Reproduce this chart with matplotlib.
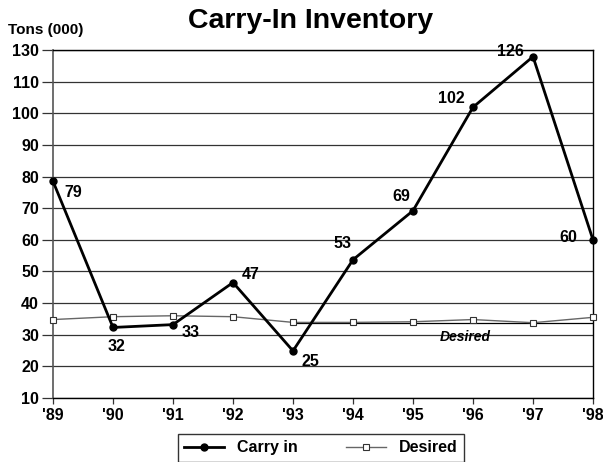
import matplotlib
matplotlib.use("Agg")
import matplotlib.pyplot as plt

plt.rcParams['font.family'] = ['Liberation Sans', 'DejaVu Sans']

years = ["'89", "'90", "'91", "'92", "'93", "'94", "'95", "'96", "'97", "'98"]
carry_in_labels = [79, 32, 33, 47, 25, 53, 69, 102, 126, 60]
# positions as drawn in the reference (its top gridline reads "130" but sits at 120)
carry_in = [78.5, 32.3, 33.2, 46.5, 24.9, 53.7, 69.2, 101.9, 117.9, 60]
desired = [34.8, 35.7, 36.0, 35.7, 33.9, 33.9, 34.1, 34.8, 33.8, 35.5]
ytick_vals = [10, 20, 30, 40, 50, 60, 70, 80, 90, 100, 110, 120]
ytick_labels = ["10", "20", "30", "40", "50", "60", "70", "80", "90", "100", "110", "130"]

fig = plt.figure(figsize=(6.03, 4.62), dpi=100)
ax = fig.add_axes([0.0879, 0.1385, 0.8955, 0.7533])
x = list(range(len(years)))

ax.set_xlim(0, len(years) - 1)
ax.set_ylim(10, 120)
ax.set_yticks(ytick_vals)
ax.set_yticklabels(ytick_labels)
ax.set_xticks(x)
ax.set_xticklabels(years)
for lbl in ax.get_xticklabels() + ax.get_yticklabels():
    lbl.set_fontweight('bold')
    lbl.set_fontsize(11.5)

ax.grid(axis='y', color='#333333', linewidth=0.9)
ax.tick_params(axis='y', length=8, width=0.9, color='#333333', pad=2)
ax.tick_params(axis='x', length=4, width=0.9, color='#333333', pad=3)
for s in ['top', 'right', 'bottom']:
    ax.spines[s].set_color('black')
    ax.spines[s].set_linewidth(1.0)
ax.spines['left'].set_color('#555555')
ax.spines['left'].set_linewidth(1.2)
ax.set_axisbelow(True)

ax.hlines(33.8, 4, 9, color='black', linewidth=0.9, zorder=2)
ax.plot(x, desired, color='#666666', linewidth=1.0, marker='s', markersize=4.5,
        markerfacecolor='white', markeredgecolor='#333333', markeredgewidth=0.8,
        label='Desired', zorder=3, clip_on=False)
ax.plot(x, carry_in, color='black', linewidth=2.0, marker='o', markersize=5,
        label='Carry in', zorder=4, clip_on=False)

offsets = [(8, -8), (-4, -14), (6, -6), (6, 6), (6, -8), (-14, 12), (-15, 10), (-25, 6), (-26, 4), (-24, 2)]
for xi, yi, lab, (dx, dy) in zip(x, carry_in, carry_in_labels, offsets):
    ax.annotate(str(lab), (xi, yi), xytext=(dx, dy), textcoords='offset points',
                ha='left', va='center', fontsize=11.5, fontweight='bold')

ax.text(6.45, 29.2, 'Desired', fontsize=10, fontweight='bold', fontstyle='italic', ha='left', va='center')

fig.text(0.515, 0.954, 'Carry-In Inventory', ha='center', va='center', fontsize=20.5, fontweight='bold')
fig.text(0.013, 0.934, 'Tons (000)', ha='left', va='center', fontsize=11, fontweight='bold')

h, l = ax.get_legend_handles_labels()
leg = fig.legend([h[1], h[0]], [l[1], l[0]], loc='upper center', bbox_to_anchor=(0.532, 0.078),
                 ncol=2, frameon=True, fancybox=False, edgecolor='black',
                 prop={'weight': 'bold', 'size': 11.5}, handlelength=2.5, columnspacing=3,
                 borderpad=0.4)
leg.get_frame().set_linewidth(1.0)

fig.savefig('out.png', dpi=100)
